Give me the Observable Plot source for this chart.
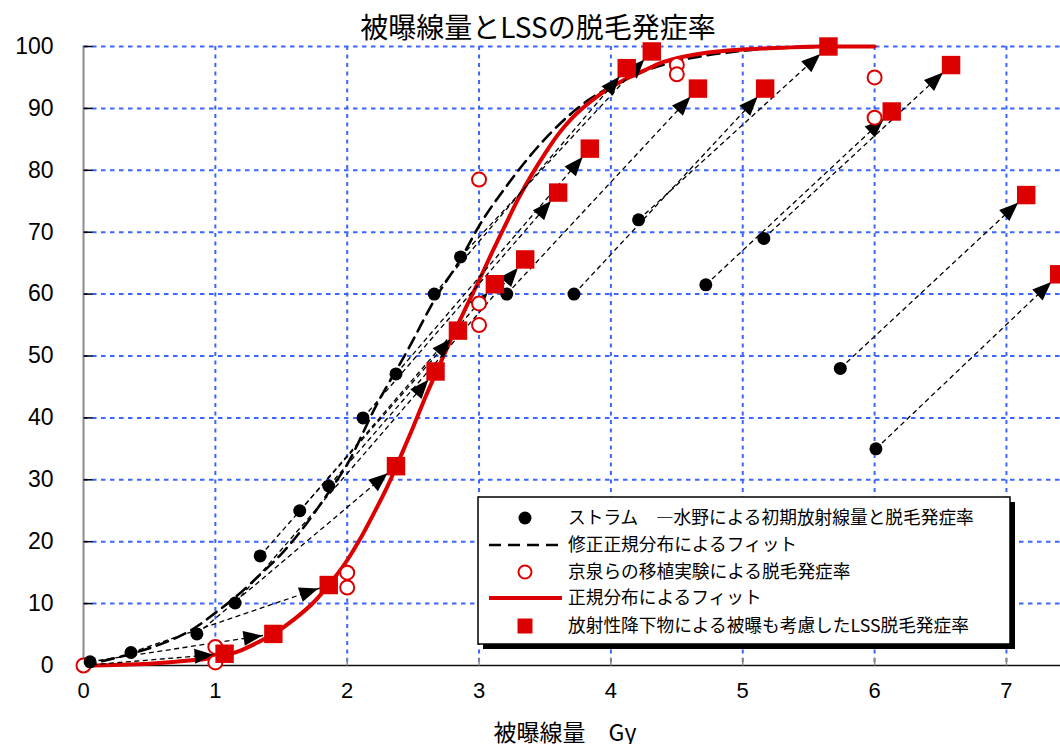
<!DOCTYPE html>
<html><head><meta charset="utf-8">
<script src="https://cdn.jsdelivr.net/npm/d3@7"></script>
<script src="https://cdn.jsdelivr.net/npm/@observablehq/plot@0.6"></script>
<style>html,body{margin:0;padding:0;background:#fff;overflow:hidden}</style>
</head><body><div id="chart"></div>
<script>
// ---- text ----
const titleText = "被曝線量とLSSの脱毛発症率";
const xLabelText = "被曝線量　Gy";
const legendLabels = [
  "ストラム　―水野による初期放射線量と脱毛発症率",
  "修正正規分布によるフィット",
  "京泉らの移植実験による脱毛発症率",
  "正規分布によるフィット",
  "放射性降下物による被曝も考慮したLSS脱毛発症率"
];
// ---- ticks ----
const xTicks = [0, 1, 2, 3, 4, 5, 6, 7];
const yTicks = [0, 10, 20, 30, 40, 50, 60, 70, 80, 90, 100];
// ---- Strom-Mizuno initial dose vs epilation (black dots) ----
const stormX = [0.05, 0.36, 0.86, 1.15, 1.34, 1.64, 1.86, 2.12, 2.37, 2.66, 2.86, 3.21, 3.72, 4.21, 4.72, 5.16, 5.74, 6.01];
const stormY = [0.6, 2.1, 5.1, 10.1, 17.7, 25, 29, 40, 47.1, 60, 66, 60, 60, 72, 61.5, 69, 48, 35];
// ---- Kyosen transplant experiment (open red circles) ----
const kyosenX = [0, 1, 1, 2, 2, 3, 3, 3, 4.5, 4.5, 6, 6];
const kyosenY = [0, 3, 0.5, 15, 12.6, 78.5, 58.5, 55, 97, 95.5, 95, 88.5];
// ---- LSS incl. fallout (red squares) ----
const lssX = [1.07, 1.44, 1.86, 2.37, 2.67, 2.84, 3.12, 3.35, 3.6, 3.84, 4.12, 4.31, 4.66, 5.17, 5.65, 6.13, 6.58, 7.15, 7.40];
const lssY = [1.9, 5.1, 13, 32.2, 47.5, 54.1, 61.6, 65.6, 76.4, 83.5, 96.5, 99.2, 93.2, 93.2, 100, 89.5, 97, 76, 63.2];
// ---- arrows: start points (origin + Strom dots) -> LSS squares ----
const arrowStartX = [0].concat(stormX);
const arrowStartY = [0].concat(stormY);
// ---- modified normal fit (long dashed) ----
const modFitX = [0, 0.36, 0.5, 0.86, 1.0, 1.15, 1.33, 1.5, 1.64, 1.86, 2.0, 2.22, 2.46, 2.66, 2.87, 3.0, 3.21, 3.56, 3.84, 4.0, 4.25, 4.5, 5.0, 5.5, 6.0];
const modFitY = [0, 1.9, 2.8, 6.3, 8.5, 11, 14.5, 18, 21.5, 28, 32.5, 42, 51, 59, 66, 71, 77.5, 86.4, 91.5, 93.5, 96, 97.6, 99.3, 99.9, 100];
// ---- normal fit (red solid) ----
const normFitX = [0, 0.5, 0.8, 1.0, 1.1, 1.2, 1.3, 1.44, 1.6, 1.75, 1.86, 2.0, 2.1, 2.2, 2.3, 2.4, 2.5, 2.6, 2.7, 2.8, 2.9, 3.0, 3.1, 3.2, 3.3, 3.4, 3.5, 3.6, 3.7, 3.8, 3.9, 4.0, 4.1, 4.2, 4.3, 4.4, 4.5, 4.7, 5.0, 5.3, 5.6, 6.0];
const normFitY = [0, 0.3, 0.8, 1.3, 1.8, 2.5, 3.5, 5.1, 7.5, 10.3, 13, 17, 20.5, 24.5, 28.7, 33.5, 38.5, 43.7, 48.5, 53.3, 57.8, 62.2, 66.8, 71.2, 75.5, 79.3, 82.7, 85.8, 88.3, 90.3, 92, 93.4, 94.6, 95.6, 96.6, 97.5, 98.1, 98.9, 99.5, 99.8, 100, 100];

// ---- tables ----
const zip = (xs, ys) => xs.map((x, i) => ({x, y: ys[i]}));
const storm = zip(stormX, stormY);
const kyosen = zip(kyosenX, kyosenY);
const lss = zip(lssX, lssY);
const modFit = zip(modFitX, modFitY);
const normFit = zip(normFitX, normFitY);
const arrows = lssX.map((x, i) => ({x1: arrowStartX[i], y1: arrowStartY[i], x2: x, y2: lssY[i]}));

const RED = "#dd0000";
const BLUE = "#3a66ff";
const tickRight = {draw(ctx) { ctx.moveTo(0, 0); ctx.lineTo(9, 0); }};
const tickUp = {draw(ctx) { ctx.moveTo(0, 0); ctx.lineTo(0, -8); }};

const plot = Plot.plot({
  width: 1060, height: 744,
  marginLeft: 83, marginRight: 0, marginTop: 46, marginBottom: 79,
  x: {domain: [0, 7.41]},
  y: {domain: [0, 100]},
  style: {fontFamily: "'Liberation Sans', Arial, sans-serif", background: "white", color: "#000"},
  marks: [
    Plot.gridX(xTicks.slice(1), {stroke: BLUE, strokeOpacity: 1, strokeWidth: 2, strokeDasharray: "4,4.5"}),
    Plot.gridY(yTicks.slice(1), {stroke: BLUE, strokeOpacity: 1, strokeWidth: 2, strokeDasharray: "4.5,4.5"}),
    Plot.ruleY([0], {stroke: "#111", strokeWidth: 1.3}),
    Plot.ruleX([0], {stroke: "#8c8c8c", strokeWidth: 2}),
    Plot.dot(yTicks, {x: () => 0, y: d => d, symbol: tickRight, stroke: "#000", strokeWidth: 1.5, fill: "none"}),
    Plot.dot(xTicks.slice(1), {x: d => d, y: () => 0, symbol: tickUp, stroke: "#8c8c8c", strokeWidth: 1.5, fill: "none"}),
    Plot.axisY({ticks: yTicks, tickSize: 0, tickPadding: 30, fontSize: 23, label: null}),
    Plot.axisX({ticks: xTicks, tickSize: 0, tickPadding: 17, fontSize: 22, label: null, tickFormat: d => String(d)}),
    Plot.line(modFit, {x: "x", y: "y", stroke: "#000", strokeWidth: 2.6, strokeDasharray: "12,7", curve: "monotone-x"}),
    Plot.line(normFit, {x: "x", y: "y", stroke: RED, strokeWidth: 4, curve: "monotone-x"}),
    Plot.link(arrows, {x1: "x1", y1: "y1", x2: "x2", y2: "y2", stroke: "#000", strokeWidth: 1.3, strokeDasharray: "5,3.5"}),
    Plot.dot(kyosen, {x: "x", y: "y", r: 7, stroke: RED, strokeWidth: 2, fill: "white"}),
    Plot.dot(storm, {x: "x", y: "y", r: 6.5, fill: "#000", stroke: "none"}),
    Plot.dot(lss, {x: "x", y: "y", symbol: "square", r: 10.4, fill: RED, stroke: "none"})
  ]
});
document.getElementById("chart").appendChild(plot);

const svg = d3.select(plot);
svg.append("defs").html(
  '<marker id="arrowTri" viewBox="0 -8 19 16" refX="30" refY="0" markerWidth="19" markerHeight="16" markerUnits="userSpaceOnUse" orient="auto" overflow="visible">' +
  '<path d="M0,-7.5L19,0L0,7.5Z" fill="#000" stroke="none"></path></marker>'
);
svg.selectAll('g[aria-label="link"] path').attr("marker-end", "url(#arrowTri)");

const jp = "'Noto Sans CJK JP', 'Noto Sans', sans-serif";
svg.append("text").attr("x", 538).attr("y", 38).attr("text-anchor", "middle")
  .style("font-family", jp).style("font-size", "28px").attr("fill", "#000").text(titleText);
svg.append("text").attr("x", 565).attr("y", 741).attr("text-anchor", "middle")
  .style("font-family", jp).style("font-size", "23px").attr("fill", "#000").text(xLabelText);

// ---- legend (inside plot area) ----
const lg = svg.append("g").attr("text-anchor", "start");
const bx = 478, by = 497, bw = 532, bh = 147;
lg.append("rect").attr("x", bx + 5).attr("y", by + 5).attr("width", bw).attr("height", bh).attr("fill", "#000");
lg.append("rect").attr("x", bx).attr("y", by).attr("width", bw).attr("height", bh).attr("fill", "#fff").attr("stroke", "#000").attr("stroke-width", 1.5);
const rowY = [518, 545, 572, 598, 626];
const symX = 525, lineX1 = 489, lineX2 = 562, textX = 568;
lg.append("circle").attr("cx", symX).attr("cy", rowY[0]).attr("r", 6.5).attr("fill", "#000");
lg.append("line").attr("x1", lineX1).attr("x2", lineX2).attr("y1", rowY[1]).attr("y2", rowY[1])
  .attr("stroke", "#000").attr("stroke-width", 2.6).attr("stroke-dasharray", "12,7");
lg.append("circle").attr("cx", symX).attr("cy", rowY[2]).attr("r", 6.5).attr("fill", "#fff").attr("stroke", RED).attr("stroke-width", 2);
lg.append("line").attr("x1", lineX1).attr("x2", lineX2).attr("y1", rowY[3]).attr("y2", rowY[3])
  .attr("stroke", RED).attr("stroke-width", 4);
lg.append("rect").attr("x", symX - 7.5).attr("y", rowY[4] - 7.5).attr("width", 15).attr("height", 15).attr("fill", RED);
legendLabels.forEach((t, i) => {
  lg.append("text").attr("x", textX).attr("y", rowY[i]).attr("dy", "0.36em").attr("text-anchor", "start")
    .style("font-family", jp).style("font-size", "17.7px").attr("fill", "#000").text(t);
});
</script>
</body></html>
